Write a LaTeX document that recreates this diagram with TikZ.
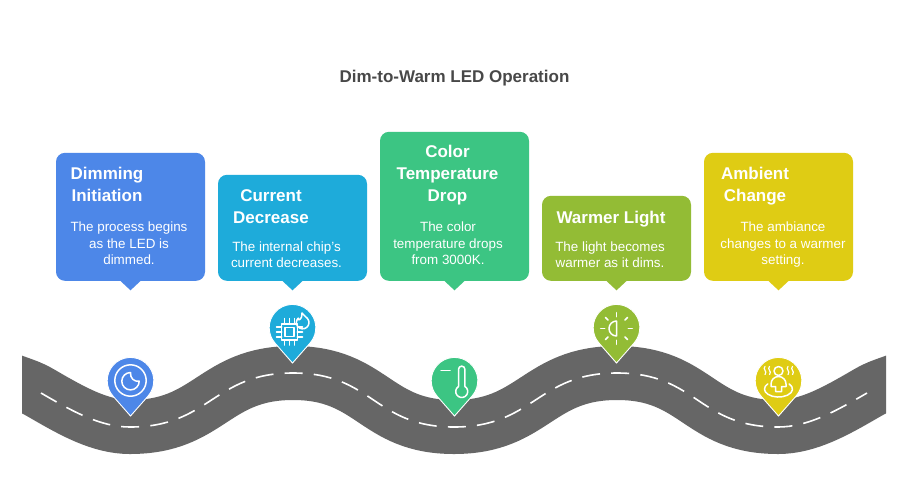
\documentclass[tikz,border=0pt]{standalone}
\usepackage{fontspec}
\setmainfont{Liberation Sans}
\definecolor{ledblue}{HTML}{4D87E8}
\definecolor{ledcyan}{HTML}{1EABDA}
\definecolor{ledgreen}{HTML}{3CC583}
\definecolor{ledolive}{HTML}{93BC35}
\definecolor{ledyellow}{HTML}{DFCC14}
\definecolor{roadgrey}{HTML}{666666}
\definecolor{titlegrey}{HTML}{484848}
\newcommand{\roadwave}{(41,393) .. controls (72,411) and (100,427) .. (130,427)
	.. controls (210,427) and (213,373) .. (293,373)
	.. controls (373,373) and (374,427) .. (454,427)
	.. controls (534,427) and (537,373) .. (617,373)
	.. controls (697,373) and (698,427) .. (778,427)
	.. controls (808,427) and (836,411) .. (867,393)}
\begin{document}
\begin{tikzpicture}[x=1pt,y=-1pt]
	\tikzstyle{card}=[rectangle,rounded corners=9pt,minimum width=149pt,anchor=south,inner sep=0pt]
	\tikzstyle{head}=[text=white,align=center,anchor=base,inner sep=0pt,font=\fontsize{17}{22}\selectfont\bfseries]
	\tikzstyle{body}=[text=white,align=center,anchor=base,inner sep=0pt,font=\fontsize{13.4}{16.3}\selectfont]
	\tikzstyle{pin}=[draw=white,line width=0.9pt,line join=miter]
	\tikzstyle{icon}=[draw=white,line width=1.5pt,line cap=round,line join=round]
	\path[use as bounding box,fill=white](0,0)rectangle(909,499);
	
	\begin{scope}
		\clip(22,330)rectangle(886,470);
		\draw[roadgrey,line width=54pt](10,380) .. controls (22,384.5) and (30,386.5) .. \roadwave .. controls (878,386.5) and (886,384.5) .. (898,380);
	\end{scope}
	\draw[white,line width=1.6pt,dash pattern=on 18pt off 11.2pt]\roadwave;
	
	\draw 
	node[text=titlegrey,font=\fontsize{17}{20}\selectfont\bfseries](T)at(454.5,78){Dim-to-Warm LED Operation}
	node[card,fill=ledblue,minimum height=128pt](C1)at(130.5,281){}
	node[card,fill=ledcyan,minimum height=106pt](C2)at(292.5,281){}
	node[card,fill=ledgreen,minimum height=149pt](C3)at(454.5,281){}
	node[card,fill=ledolive,minimum height=85pt](C4)at(616.5,281){}
	node[card,fill=ledyellow,minimum height=128pt](C5)at(778.5,281){};
	
	\fill[ledblue](C1.south)++(-10,0)--++(10,9.3)--++(10,-9.3)--cycle;
	\fill[ledcyan](C2.south)++(-10,0)--++(10,9.3)--++(10,-9.3)--cycle;
	\fill[ledgreen](C3.south)++(-10,0)--++(10,9.3)--++(10,-9.3)--cycle;
	\fill[ledolive](C4.south)++(-10,0)--++(10,9.3)--++(10,-9.3)--cycle;
	\fill[ledyellow](C5.south)++(-10,0)--++(10,9.3)--++(10,-9.3)--cycle;
	
	\draw 
	node[head](H1)at(107,201){Dimming\\Initiation}
	node[head](H2)at(271,223){Current\\Decrease}
	node[head](H3)at(447.5,201){Color\\Temperature\\Drop}
	node[head](H4)at(611,223){Warmer Light}
	node[head](H5)at(755,201){Ambient\\Change}
	node[body](B1)at(129,264.5){The process begins\\as the LED is\\dimmed.}
	node[body](B2)at(286.5,267.5){The internal chip's\\current decreases.}
	node[body](B3)at(448,264.5){The color\\temperature drops\\from 3000K.}
	node[body](B4)at(610,267.5){The light becomes\\warmer as it dims.}
	node[body](B5)at(783,264.5){The ambiance\\changes to a warmer\\setting.};
	
	\filldraw[pin,fill=ledblue](130.5,416)--(148.1,396)arc[start angle=41,end angle=-221,radius=23.3]--cycle;
	\filldraw[pin,fill=ledcyan](292.5,363)--(310.1,343)arc[start angle=41,end angle=-221,radius=23.3]--cycle;
	\filldraw[pin,fill=ledgreen](454.5,416)--(472.1,396)arc[start angle=41,end angle=-221,radius=23.3]--cycle;
	\filldraw[pin,fill=ledolive](616.5,363)--(634.1,343)arc[start angle=41,end angle=-221,radius=23.3]--cycle;
	\filldraw[pin,fill=ledyellow](778.5,416)--(796.1,396)arc[start angle=41,end angle=-221,radius=23.3]--cycle;
	
	% moon
	\draw[icon](130.5,380.5)circle[radius=15.7];
	\draw[icon](130.5,372.5)arc[start angle=-90,end angle=-360,radius=8.7] .. controls (134,382) and (130,378) .. cycle;
	% chip
	\draw[icon](281.7,324)rectangle(297.3,340);
	\draw[icon](285,327.5)rectangle(294,336.5);
	\foreach \s in {-5,0,5}{
		\draw[icon](\s+289.5,318.5)--(\s+289.5,324);
		\draw[icon](\s+289.5,340)--(\s+289.5,345);
		\draw[icon](276.5,\s+332)--(281.7,\s+332);
		\draw[icon](297.3,\s+332)--(302.5,\s+332);
	}
	\draw[icon](302,313) .. controls (303,315.5) and (306,316) .. (307.5,318.5)arc[start angle=-40,end angle=225,radius=6.3] .. controls (298,322) and (302.5,319) .. (302,313);
	% thermometer
	\draw[icon](441,370.5)--(450,370.5);
	\draw[icon](458.5,386.4)--(458.5,369.3)arc[start angle=180,end angle=360,radius=3.2]--(464.9,386.4)arc[start angle=-58,end angle=238,radius=6];
	% half sun
	\draw[icon](616.5,321)--(616.5,336)arc[start angle=90,end angle=270,radius=7.5];
	\foreach \a in {0,45,...,315}{
		\draw[icon]({616.5+11.8*cos(\a)},{328.5+11.8*sin(\a)})--({616.5+15.8*cos(\a)},{328.5+15.8*sin(\a)});
	}
	% person
	\draw[icon](778.5,371)circle[radius=4.5];
	\draw[icon](775.5,391.5)--(775.5,386.5)--(771,386.5)--(771,384)arc[start angle=180,end angle=360,radius=7.5]--(786,386.5)--(781.5,386.5)--(781.5,391.5)--cycle;
	\draw[icon](789.2,383.9)arc[start angle=-40,end angle=220,x radius=14,y radius=8];
	\foreach \x in {765,769.5,788,792.5}{
		\draw[icon,line width=1.2pt](\x,366.5) .. controls (\x-3,369) and (\x+3,371.5) .. (\x,374.5);
	}
\end{tikzpicture}
\end{document}
